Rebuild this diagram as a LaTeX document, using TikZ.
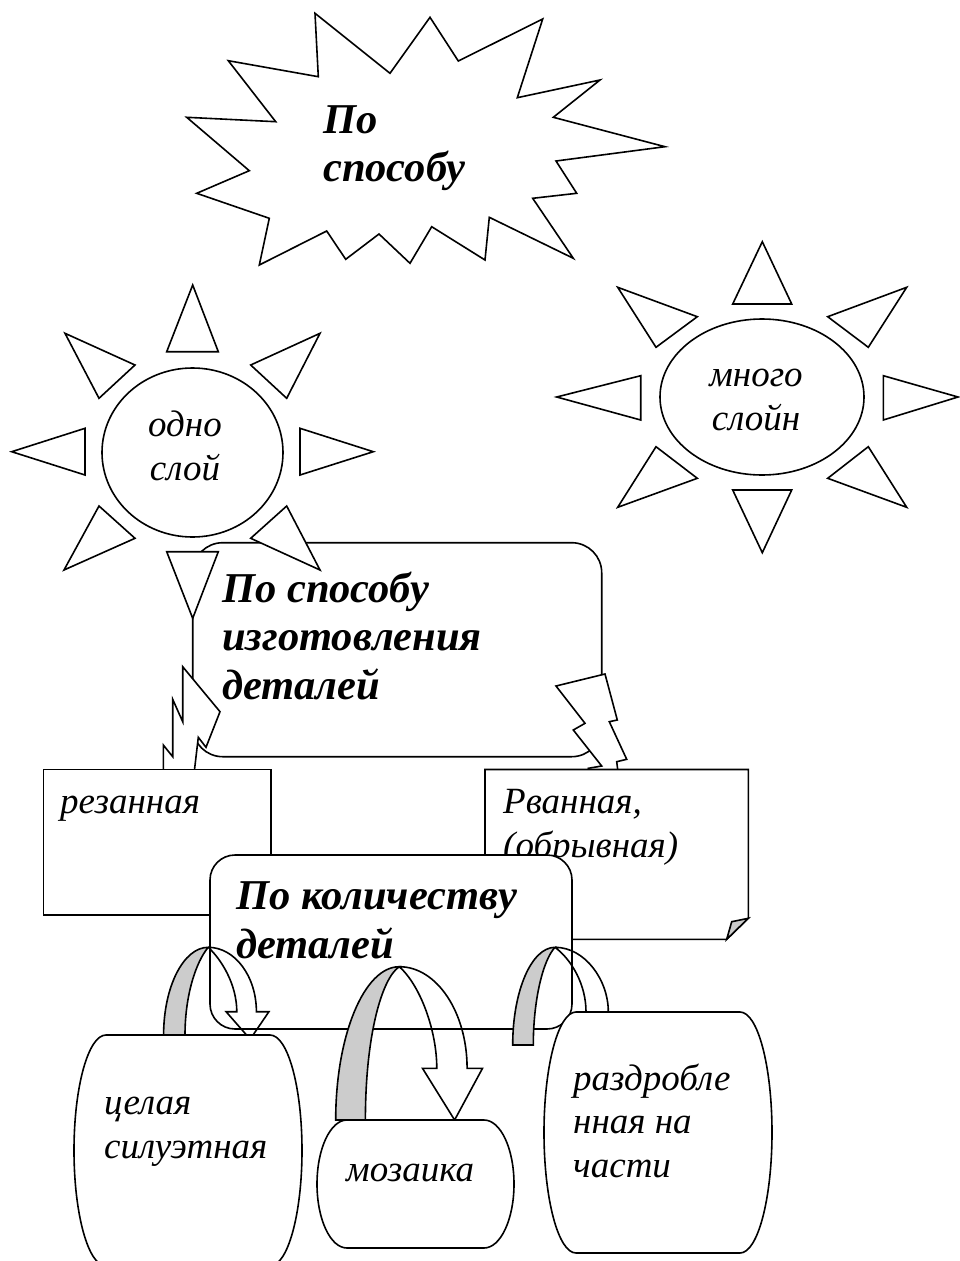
\documentclass[tikz,border=0pt]{standalone}
\usepackage{fontspec}
\setmainfont{Liberation Serif}
\begin{document}
\begin{tikzpicture}[x=1pt,y=-1pt,
  shp/.style={draw=black,line width=1.6pt,fill=white,line join=miter},
  backpart/.style={draw=black,line width=1.6pt,fill=black!20},
  band/.style={draw=black,line width=1.6pt},
  itx/.style={font=\fontsize{37}{43.5}\selectfont\itshape,inner sep=0pt,anchor=base west,align=left},
  ctx/.style={font=\fontsize{37}{43.5}\selectfont\itshape,inner sep=0pt,anchor=base,align=center},
  btx/.style={font=\fontsize{42.5}{48.5}\selectfont\bfseries\itshape,inner sep=0pt,anchor=base west,align=left}]
\useasboundingbox (0,0) rectangle (960,1261);
\clip (0,0) rectangle (960,1261);

% explosion star
\draw[shp] (315,13.3) -- (390,73.3) -- (430,17.3) -- (458.3,61) -- (542.7,19) -- (517.3,97.7)
  -- (600,80) -- (553.3,117.3) -- (665,146.7) -- (556,161) -- (576.7,193.3) -- (532.7,198.3)
  -- (573.3,258.3) -- (489.3,217.3) -- (485,260) -- (431.7,226.7) -- (410,263.3) -- (379,234)
  -- (345.7,259.3) -- (326.7,231) -- (259.3,265) -- (269.3,218.3) -- (196.7,193.3) -- (249.3,170.7)
  -- (186.7,117.3) -- (275.7,121.7) -- (228.3,60.7) -- (318.3,76.7) -- cycle;
\node[btx] (startext) at (323,181.7) {По\\способу};

% box 1
\draw[shp,rounded corners=30pt] (192.7,542.7) rectangle (601.7,756.7);
\node[btx] (box1text) at (222,699) {По способу\\изготовления\\деталей};

% left sun
\draw[shp] (192.7,285) -- (166.7,351.7) -- (218.3,351.7) -- cycle;
\draw[shp] (320,333.3) -- (250.7,365) -- (286.7,398.3) -- cycle;
\draw[shp] (300,428.3) -- (300,475) -- (373.3,451.7) -- cycle;
\draw[shp] (286.7,506) -- (250.7,538.3) -- (320,570) -- cycle;
\draw[shp] (166.7,551.7) -- (218.3,551.7) -- (192.7,618.3) -- cycle;
\draw[shp] (99,506) -- (135,538.3) -- (64,570) -- cycle;
\draw[shp] (85,428.3) -- (85,475) -- (11.7,451.7) -- cycle;
\draw[shp] (65,333.3) -- (135,365) -- (99,398.3) -- cycle;
\draw[shp] (192.5,452.5) ellipse [x radius=90.5pt, y radius=84.5pt];
\node[ctx] (sun1text) at (185,480) {одно\\слой};

% right sun
\draw[shp] (762.3,241.7) -- (732.7,304) -- (791.7,304) -- cycle;
\draw[shp] (906.7,287.3) -- (827.7,316.7) -- (868.3,347.3) -- cycle;
\draw[shp] (883.3,375.7) -- (883.3,420) -- (958,397) -- cycle;
\draw[shp] (868.3,446.7) -- (827.7,478.3) -- (906.7,507.3) -- cycle;
\draw[shp] (732.7,490) -- (791.7,490) -- (762.3,552.7) -- cycle;
\draw[shp] (656,446.7) -- (697.3,478.3) -- (617.7,507.3) -- cycle;
\draw[shp] (640.7,375.7) -- (640.7,420) -- (556.7,397) -- cycle;
\draw[shp] (617.7,287.3) -- (697.3,316.7) -- (656,347.3) -- cycle;
\draw[shp] (762,397) ellipse [x radius=102pt, y radius=78pt];
\node[ctx] (sun2text) at (756,430) {много\\слойн};

% lightning bolts
\draw[shp] (182.7,666.7) -- (220,711.7) -- (206,747.3) -- (198.3,737.3) -- (193.3,780)
  -- (163.3,780) -- (163.3,745) -- (172.7,756.7) -- (172.7,699.3) -- (182.7,721.7) -- cycle;
\draw[shp] (556,686) -- (605,674) -- (617.3,720) -- (609.3,721.7) -- (626.7,759.3) -- (616.7,761.7)
  -- (619,780) -- (590,780) -- (588.3,768.3) -- (601.7,766) -- (573.3,730) -- (585,723.3) -- cycle;

% cut / torn boxes
\draw[shp] (43.5,769.5) rectangle (271,915);
\node[itx] (cuttext) at (60,813) {резанная};
\draw[shp] (485,769.5) -- (748.3,769.5) -- (748.3,918.3) -- (726.7,939.3) -- (485,939.3) -- cycle;
\draw[shp,fill=black!20] (748.3,918.3) -- (731.7,921.7) -- (726.7,939.3) -- cycle;
\node[itx] (torntext) at (503,857) {Рванная,\\(обрывная)};

% box 2
\draw[shp,rounded corners=25pt] (210,855) rectangle (572,1029);
\node[btx] (box2text) at (236,958) {По количеству\\деталей};

% curved arrows
\draw[backpart] (163.6,1035) .. controls (163.6,986.6) and (183.6,947.3) .. (208.2,947.3)
  .. controls (196,962) and (185,995) .. (185,1035) -- cycle;
\draw[band] (208.2,947.3) .. controls (234.8,947.3) and (256.4,976.2) .. (256.4,1011.7)
  -- (268.9,1011.7) -- (250.2,1039.2) -- (226.1,1011.7) -- (236.8,1011.7)
  .. controls (236.8,985) and (222,960) .. (208.2,947.3);

\draw[backpart] (335.7,1120) .. controls (335.7,1035.4) and (364.2,966.7) .. (399.3,966.7)
  .. controls (382,978) and (365.4,1035) .. (365.4,1120) -- cycle;
\draw[band] (399.3,966.7) .. controls (436.7,966.7) and (467.1,1012.2) .. (467.1,1068.3)
  -- (482.5,1068.3) -- (454.6,1120) -- (422.5,1068.3) -- (436.8,1068.3)
  .. controls (436.8,1030) and (420,985) .. (399.3,966.7);

\draw[backpart] (512.7,1045) .. controls (512.7,991) and (531.5,947.3) .. (555,947.3)
  .. controls (543,960) and (533.3,1000) .. (533.3,1045) -- cycle;
\draw[band] (555,947.3) .. controls (585,947.3) and (608.3,980) .. (608.3,1011.7)
  -- (608.3,1030) -- (620,1030) -- (597,1065) -- (576,1030) -- (586,1030) -- (586,1011.7)
  .. controls (586,985) and (572,960) .. (555,947.3);

% bottom barrels
\draw[shp] (106,1035) -- (270,1035) .. controls (287.7,1035) and (302,1086.7) .. (302,1150.5)
  .. controls (302,1214.3) and (287.7,1266) .. (270,1266) -- (106,1266)
  .. controls (88.3,1266) and (74,1214.3) .. (74,1150.5) .. controls (74,1086.7) and (88.3,1035) .. cycle;
\node[itx] (wholetext) at (104,1158) {целая\\силуэтная};

\draw[shp] (347,1120) -- (484,1120) .. controls (500.6,1120) and (514,1148.7) .. (514,1184)
  .. controls (514,1219.3) and (500.6,1248) .. (484,1248) -- (347,1248)
  .. controls (330.4,1248) and (317,1219.3) .. (317,1184) .. controls (317,1148.7) and (330.4,1120) .. cycle;
\node[itx] (mosaictext) at (346,1181.7) {мозаика};

\draw[shp] (576,1012) -- (740,1012) .. controls (757.7,1012) and (772,1065.9) .. (772,1132.5)
  .. controls (772,1199.1) and (757.7,1253) .. (740,1253) -- (576,1253)
  .. controls (558.3,1253) and (544,1199.1) .. (544,1132.5) .. controls (544,1065.9) and (558.3,1012) .. cycle;
\node[itx] (parttext) at (573,1177) {раздробле\\нная на\\части};
\end{tikzpicture}
\end{document}
